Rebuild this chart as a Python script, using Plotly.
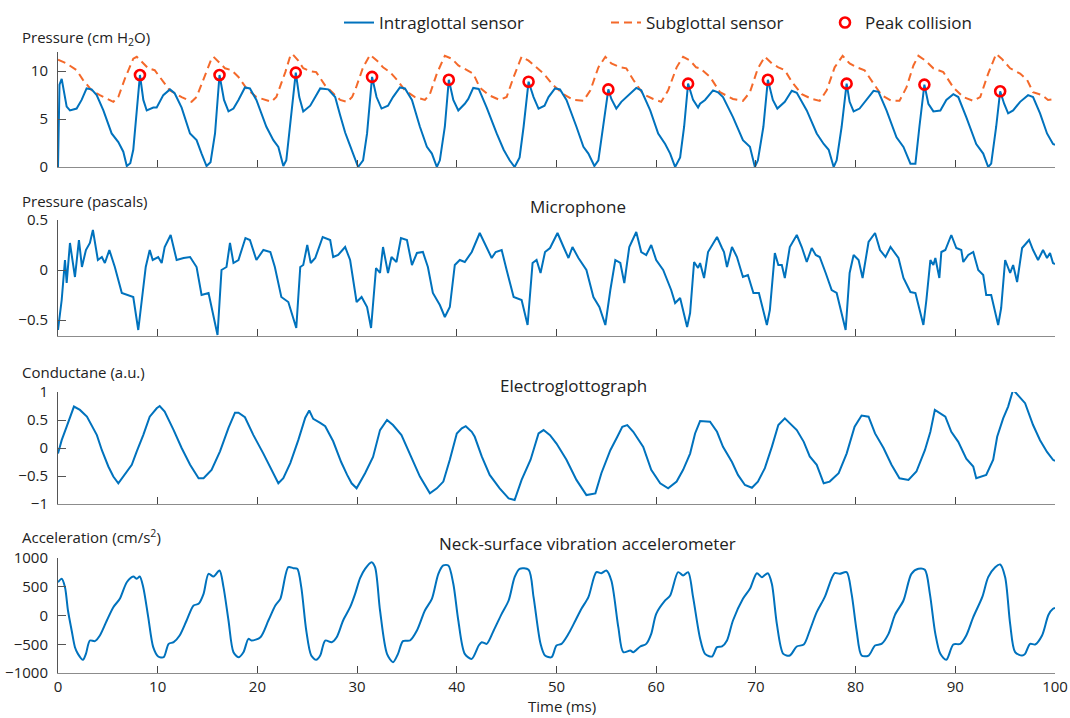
import plotly.graph_objects as go

# ---------------- DATA ----------------
# Panel 1: intraglottal sensor pressure (cm H2O)
intra_t = [0, 0.15, 0.37, 0.87, 1.2, 1.87, 2.37, 2.87, 3.37, 3.88, 4.55, 5.38, 6.05, 6.55, 6.9, 7.25, 7.55, 7.9, 8.22,
           8.56, 8.9, 9.56, 9.9, 10.56, 11.23, 11.7, 12.4, 13.24, 13.9, 14.4, 14.9, 15.3, 15.75, 16.2,
           16.65, 17.1, 17.6, 18.1, 18.75, 19.25, 19.9, 20.9, 21.6, 22.1, 22.6, 22.9, 23.35, 23.85,
           24.2, 24.6, 25.3, 25.8, 26.3, 27.1, 27.8, 28.3, 28.8, 29.2, 29.6, 30.1, 30.6, 31.0, 31.5,
           31.95, 32.45, 33.1, 33.6, 34.3, 34.8, 35.5, 36.3, 37.0, 37.5, 38.0, 38.3, 38.8, 39.2,
           39.65, 40.15, 40.8, 41.15, 41.65, 42.2, 43.0, 44.0, 44.7, 45.3, 45.8, 46.3, 46.7, 47.2,
           47.7, 48.2, 48.8, 49.2, 49.85, 50.35, 51.0, 52.0, 52.7, 53.2, 53.8, 54.2, 54.7, 55.2,
           55.5, 56.0, 56.5, 57.2, 58.0, 58.5, 59.4, 60.2, 60.9, 61.4, 61.9, 62.4, 62.8, 63.2,
           63.7, 64.2, 64.4, 64.9, 65.7, 66.2, 66.7, 67.7, 68.7, 69.4, 69.9, 70.2, 70.75, 71.2,
           71.7, 72.15, 72.9, 73.6, 74.1, 75.1, 76.1, 76.8, 77.3, 77.8, 78.1, 78.6, 79.1,
           79.4, 79.8, 80.4, 81.1, 81.8, 82.3, 83.1, 84.1, 84.8, 85.5, 86.0, 86.4, 86.9,
           87.3, 87.8, 88.5, 89.1, 89.8, 90.3, 91.1, 92.1, 92.8, 93.3, 93.6, 94.1, 94.5,
           94.9, 95.3, 95.8, 96.5, 97.3, 97.8, 98.5, 99.2, 99.8, 100]
intra_p = [0, 8.6, 9.2, 6.3, 5.9, 6.1, 7.0, 8.2, 8.1, 7.5, 5.9, 3.5, 2.6, 1.6, 0.1, 0.4, 1.8, 5.9, 9.6,
           7.0, 5.9, 6.2, 6.2, 7.5, 8.1, 7.7, 6.2, 3.5, 2.8, 1.4, 0.1, 0.5, 3.5, 9.6,
           7.0, 5.8, 6.1, 7.0, 8.3, 8.2, 7.0, 4.2, 2.8, 2.1, 0.1, 0.7, 4.9, 9.85,
           7.3, 5.8, 6.4, 7.3, 8.2, 8.1, 7.3, 5.4, 3.6, 2.5, 1.4, 0.0, 0.7, 3.5, 9.4,
           7.3, 6.1, 6.4, 7.3, 8.3, 8.2, 7.0, 4.2, 2.1, 1.4, 0.0, 0.7, 4.2, 9.1,
           7.0, 5.9, 6.6, 7.1, 8.25, 8.15, 6.2, 3.5, 1.8, 0.7, 0.0, 1.0, 4.2, 8.9,
           7.3, 6.1, 6.4, 7.3, 8.2, 8.1, 7.0, 4.2, 2.1, 1.4, 0.1, 0.7, 4.2, 8.1,
           7.1, 6.1, 6.8, 7.5, 8.25, 8.0, 5.9, 3.5, 2.4, 1.4, 0.0, 1.0, 4.2, 8.7,
           7.0, 6.2, 6.6, 7.0, 8.0, 7.8, 7.3, 5.2, 2.8, 2.1, 0.0, 0.7, 4.2, 9.1,
           7.0, 6.1, 6.8, 7.95, 7.75, 5.9, 3.5, 2.4, 1.8, 0.0, 0.7, 4.2, 8.7,
           6.8, 5.8, 6.1, 7.0, 7.95, 7.85, 5.9, 3.1, 2.1, 0.35, 0.35, 4.2, 8.6,
           6.6, 5.8, 5.9, 7.0, 7.6, 7.3, 5.2, 2.4, 1.4, 0.0, 0.35, 4.2, 7.9,
           6.6, 5.6, 5.9, 6.8, 7.5, 7.3, 5.6, 3.5, 2.4, 2.3]

# Panel 1: subglottal sensor pressure (cm H2O)
sub_t = [0, 0.87, 1.87, 2.5, 3.37, 4.2, 5.55, 6.05, 6.7, 7.55, 7.9, 8.6, 9.05, 9.7, 10.4, 11.2, 12.4, 13.4, 13.9,
         14.7, 15.4, 15.6, 16.1, 16.75, 17.4, 18.1, 18.9, 19.9, 21.4, 21.9, 22.8, 23.3, 23.5, 24.1, 24.6, 25.3,
         25.9, 26.8, 27.6, 28.3, 29.0, 29.5, 29.9, 30.6, 31.3, 32.0, 32.6, 33.3, 34.0, 34.8, 35.8, 36.8, 37.3,
         38.0, 38.8, 39.5, 40.15, 41.0, 41.65, 42.3, 43.2, 44.3, 45.0, 45.7, 46.5, 47.2, 48.0, 48.7, 49.7, 50.7,
         51.7, 52.7, 53.4, 54.2, 54.9, 55.5, 56.4, 57.0, 57.7, 58.7, 59.7, 60.5, 61.2, 62.05, 62.7, 63.4, 64.0,
         64.4, 65.4, 66.4, 67.7, 68.7, 69.4, 70.2, 70.9, 71.6, 72.25, 72.9, 73.6, 74.6, 75.6, 76.4, 77.1, 77.9,
         78.7, 79.4, 80.1, 80.9, 81.8, 82.6, 83.6, 84.4, 85.1, 85.8, 86.3, 87.0, 87.8, 88.8, 89.8, 90.8, 91.8,
         92.5, 93.3, 94.1, 94.65, 95.5, 96.5, 97.2, 97.8, 98.7, 99.3, 100]
sub_p = [11.2, 10.8, 10.1, 9.1, 8.0, 7.5, 6.8, 7.3, 9.2, 11.3, 11.5, 10.8, 10.3, 10.1, 9.1, 8.0, 7.3, 6.8, 7.3,
         9.4, 11.3, 11.5, 11.0, 10.3, 10.1, 9.4, 8.2, 7.3, 6.8, 7.3, 9.9, 11.6, 11.8, 11.1, 10.3, 10.0,
         9.9, 8.5, 7.7, 7.0, 6.8, 7.3, 8.3, 10.4, 11.7, 11.1, 10.4, 9.9, 9.1, 8.0, 7.3, 7.0, 7.6,
         9.75, 11.6, 11.3, 10.6, 10.1, 9.75, 8.3, 7.5, 7.0, 7.3, 9.4, 11.5, 11.1, 10.4, 9.75, 8.5, 7.6,
         7.0, 6.9, 8.0, 10.4, 11.5, 10.8, 10.4, 10.3, 9.1, 7.6, 7.1, 6.8, 8.0, 10.4, 11.5, 11.1, 10.4,
         10.3, 9.4, 7.8, 7.1, 6.9, 7.8, 10.3, 11.5, 10.8, 10.4, 10.1, 8.9, 7.6, 7.1, 6.9, 8.0, 10.4,
         11.6, 10.8, 10.4, 10.1, 8.7, 7.5, 6.9, 6.9, 8.3, 10.6, 11.6, 11.1, 10.3, 9.9, 8.3, 7.3, 6.9,
         7.3, 9.75, 11.8, 11.3, 10.3, 9.75, 9.1, 7.8, 7.5, 7.0, 7.1]

# Panel 1: peak collision markers
peak_t = [8.22, 16.2, 23.85, 31.5, 39.2, 47.2, 55.2, 63.2, 71.2, 79.1, 86.9, 94.5]
peak_p = [9.6, 9.6, 9.85, 9.4, 9.1, 8.9, 8.1, 8.7, 9.1, 8.7, 8.6, 7.9]

# Panel 2: microphone pressure (pascals)
mic_t = [0, 0.37, 0.7, 0.87, 1.2, 1.5, 1.7, 2.1, 2.4, 2.8, 3.2, 3.5, 4.0, 4.4, 4.7, 5.15, 5.7, 6.4, 7.05, 7.55,
         8.05, 8.4, 8.8, 9.2, 9.5, 10.05, 10.4, 10.7, 11.3, 11.9, 12.6, 13.25, 13.9, 14.4, 15.1, 16.0, 16.4,
         16.9, 17.25, 17.6, 18.1, 18.8, 19.25, 19.9, 20.6, 21.3, 21.75, 22.4, 23.1, 23.9, 24.3, 24.6, 25.0,
         25.35, 25.8, 26.55, 27.3, 27.6, 28.1, 28.8, 29.3, 29.95, 30.45, 31.0, 31.4, 31.9, 32.3, 32.6, 33.1,
         33.45, 33.95, 34.4, 35.0, 35.5, 36.0, 36.6, 37.1, 37.6, 38.3, 38.8, 39.3, 39.8, 40.3, 40.8, 41.5,
         42.3, 43.0, 43.5, 43.9, 44.5, 45.0, 45.7, 46.5, 47.1, 47.6, 48.0, 48.4, 48.85, 49.35, 50.1, 50.75,
         51.2, 51.6, 52.2, 53.0, 53.7, 54.3, 54.9, 55.4, 55.9, 56.4, 56.8, 57.3, 58.0, 58.5, 59.0, 59.5,
         60.0, 60.7, 61.5, 61.9, 62.4, 63.1, 63.4, 63.8, 64.2, 64.4, 64.8, 65.2, 66.1, 66.6, 66.8, 67.1,
         67.6, 68.1, 68.7, 69.2, 69.75, 70.3, 71.1, 71.4, 71.9, 72.25, 72.6, 72.9, 73.4, 74.1, 74.6, 75.1,
         75.6, 76.0, 76.4, 77.0, 77.6, 78.1, 78.6, 79.0, 79.4, 79.8, 80.3, 80.7, 81.3, 81.95, 82.45, 83.0,
         83.5, 84.3, 84.8, 85.5, 86.0, 86.5, 86.8, 87.1, 87.5, 87.8, 88.0, 88.4, 88.6, 89.0, 89.6, 90.1,
         90.6, 90.8, 91.3, 91.8, 92.3, 92.8, 93.1, 93.6, 94.0, 94.3, 94.6, 95.0, 95.5, 95.8, 96.2, 96.7,
         97.4, 97.8, 98.3, 98.8, 99.2, 99.5, 99.8, 100]
mic_p = [-0.6, -0.3, 0.1, -0.13, 0.27, 0.03, -0.07, 0.3, 0.03, 0.2, 0.27, 0.4, 0.1, 0.13, 0.07, 0.2, 0.03, -0.23, -0.25, -0.27,
         -0.6, -0.3, 0.03, 0.2, 0.1, 0.13, 0.07, 0.23, 0.35, 0.1, 0.12, 0.13, 0.03, -0.25, -0.23, -0.65, 0.0,
         0.03, 0.27, 0.07, 0.1, 0.32, 0.3, 0.1, 0.2, 0.18, 0.03, -0.27, -0.32, -0.58, 0.03, 0.05, 0.25,
         0.07, 0.12, 0.33, 0.3, 0.13, 0.15, 0.23, 0.1, -0.32, -0.27, -0.37, -0.58, 0.02, -0.03, 0.23, -0.03,
         0.13, 0.08, 0.32, 0.3, 0.05, 0.17, 0.18, 0.03, -0.23, -0.35, -0.47, -0.37, 0.05, 0.1, 0.08, 0.18,
         0.37, 0.23, 0.12, 0.18, 0.2, 0.0, -0.27, -0.3, -0.55, 0.07, 0.1, -0.03, 0.18, 0.22, 0.37, 0.22,
         0.12, 0.23, 0.12, 0.0, -0.27, -0.37, -0.55, -0.2, 0.1, 0.07, -0.13, 0.23, 0.38, 0.18, 0.15, 0.25,
         0.1, 0.0, -0.2, -0.33, -0.28, -0.57, -0.43, 0.08, 0.02, 0.07, -0.08, 0.18, 0.33, 0.22, 0.18, 0.03,
         0.23, 0.13, -0.07, -0.05, -0.23, -0.23, -0.55, -0.4, 0.17, 0.05, 0.05, -0.08, 0.23, 0.35, 0.23, 0.08,
         0.22, 0.15, 0.13, -0.03, -0.2, -0.23, -0.45, -0.6, -0.03, 0.15, 0.1, -0.08, 0.28, 0.37, 0.2, 0.13,
         0.23, 0.12, -0.08, -0.22, -0.23, -0.45, -0.55, -0.3, 0.1, 0.05, 0.12, -0.08, 0.18, 0.2, 0.35, 0.22,
         0.2, 0.08, 0.15, 0.18, 0.0, -0.05, -0.25, -0.25, -0.43, -0.55, -0.38, 0.1, -0.03, 0.05, -0.12, 0.22,
         0.3, 0.2, 0.1, 0.2, 0.12, 0.17, 0.07, 0.06]

# Panel 3: electroglottograph conductance (a.u.)
egg_t = [0, 0.37, 0.87, 1.2, 1.6, 2.2, 2.9, 3.9, 4.4, 5.05, 5.55, 6.05, 6.55, 7.4, 7.9, 8.55, 9.2, 9.9, 10.2, 10.7,
         11.6, 12.4, 13.25, 14.1, 14.6, 15.4, 16.25, 17.1, 17.75, 18.1, 18.75, 19.6, 20.6, 21.4, 22.1, 22.6,
         23.3, 24.1, 24.8, 25.2, 25.6, 26.3, 26.8, 27.6, 28.4, 29.0, 29.45, 29.95, 30.8, 31.6, 32.3, 33.0,
         33.6, 34.45, 35.3, 36.3, 37.3, 38.0, 38.65, 39.3, 40.0, 40.5, 40.9, 41.5, 41.8, 42.5, 43.3, 44.3,
         45.2, 45.8, 46.5, 47.4, 48.2, 48.7, 49.35, 50.0, 51.0, 52.0, 53.0, 53.9, 54.5, 55.4, 56.1, 56.6,
         57.1, 57.7, 58.7, 59.5, 60.4, 61.2, 62.05, 62.7, 63.4, 63.9, 64.4, 65.4, 66.1, 66.7, 67.6, 68.2,
         68.9, 69.6, 70.2, 70.9, 71.6, 72.25, 72.9, 73.6, 74.1, 74.8, 75.4, 76.1, 76.8, 77.4, 78.3, 79.1,
         79.9, 80.6, 81.3, 81.95, 82.8, 83.6, 84.4, 85.3, 86.1, 86.95, 87.5, 87.95, 88.5, 89.0, 89.6, 90.3,
         91.1, 91.8, 92.1, 93.1, 93.8, 94.2, 94.8, 95.3, 95.8, 96.5, 97.0, 97.8, 98.5, 99.2, 99.8, 100]
egg_v = [-0.1, 0.14, 0.38, 0.56, 0.74, 0.68, 0.56, 0.23, -0.04, -0.33, -0.51, -0.63, -0.51, -0.3, -0.06, 0.23, 0.56, 0.71, 0.75, 0.65,
         0.32, 0.0, -0.3, -0.54, -0.54, -0.39, -0.06, 0.36, 0.63, 0.63, 0.55, 0.23, -0.1, -0.39, -0.63, -0.54,
         -0.27, 0.14, 0.54, 0.67, 0.52, 0.45, 0.39, 0.12, -0.25, -0.48, -0.63, -0.72, -0.45, -0.16, 0.32, 0.5,
         0.41, 0.23, -0.1, -0.51, -0.81, -0.72, -0.6, -0.21, 0.26, 0.35, 0.39, 0.29, 0.2, -0.15, -0.48, -0.72,
         -0.9, -0.93, -0.57, -0.21, 0.26, 0.32, 0.23, 0.08, -0.21, -0.57, -0.84, -0.81, -0.45, -0.04, 0.2, 0.38,
         0.41, 0.29, 0.02, -0.39, -0.63, -0.72, -0.6, -0.39, -0.1, 0.26, 0.48, 0.47, 0.29, 0.02, -0.25, -0.48,
         -0.66, -0.71, -0.6, -0.36, 0.02, 0.41, 0.53, 0.41, 0.32, 0.11, -0.15, -0.3, -0.63, -0.6, -0.45, -0.1,
         0.38, 0.58, 0.56, 0.26, 0.0, -0.3, -0.54, -0.57, -0.42, -0.04, 0.29, 0.68, 0.62, 0.56, 0.29, 0.11,
         -0.19, -0.33, -0.54, -0.48, -0.21, 0.2, 0.53, 0.74, 1.04, 0.89, 0.8, 0.41, 0.14, -0.07, -0.21, -0.23]

# Panel 4: neck-surface accelerometer (cm/s^2)
acc_t = [0, 0.37, 0.7, 1.0, 1.37, 1.7, 2.0, 2.5, 2.8, 3.2, 3.7, 4.2, 4.9, 5.55, 6.2, 6.9, 7.55, 7.9, 8.2, 8.55,
         9.05, 9.55, 10.05, 10.6, 11.1, 11.6, 12.2, 12.9, 13.6, 14.1, 14.6, 15.1, 15.6, 16.2, 16.6, 17.1, 17.6,
         18.1, 18.6, 19.1, 19.4, 20.3, 21.1, 21.8, 22.3, 23.1, 23.6, 24.0, 24.4, 24.9, 25.4, 25.9, 26.3, 26.8,
         27.45, 27.95, 28.6, 29.3, 29.8, 30.3, 30.8, 31.45, 31.8, 32.3, 33.0, 33.6, 34.1, 34.6, 35.3, 36.0,
         36.8, 37.5, 38.15, 38.65, 39.15, 39.65, 40.15, 40.8, 41.5, 42.2, 42.5, 43.0, 43.7, 44.5, 45.2, 45.8,
         46.3, 47.2, 47.7, 48.4, 48.85, 49.5, 50.0, 50.5, 51.2, 51.9, 52.5, 53.2, 54.0, 54.5, 55.0, 55.5,
         56.2, 56.7, 57.4, 57.7, 58.4, 59.0, 59.5, 60.0, 60.9, 61.4, 62.2, 62.7, 63.2, 63.7, 64.4, 64.9, 65.6,
         66.1, 66.6, 67.1, 67.7, 68.7, 69.4, 70.1, 70.6, 71.2, 71.6, 72.1, 72.75, 73.4, 74.1, 74.8, 75.4,
         76.1, 76.9, 77.9, 78.4, 79.1, 79.6, 80.1, 80.6, 81.3, 81.95, 82.6, 83.3, 83.95, 84.8, 85.6, 86.3,
         86.95, 87.45, 88.0, 88.5, 89.1, 89.8, 90.5, 91.1, 91.8, 92.7, 93.3, 94.0, 94.5, 95.0, 95.5, 96.0,
         96.7, 97.0, 97.5, 98.0, 98.7, 99.35, 99.8, 100]
acc_v = [579, 638, 493, 87, -261, -551, -667, -771, -667, -435, -446, -348, -87, 145, 290, 579, 678, 638, 678, 493,
         -29, -551, -713, -725, -493, -464, -348, -87, 174, 203, 377, 725, 678, 783, 493, -87, -638,
         -725, -638, -406, -435, -377, -87, 174, 290, 841, 823, 812, 493, -261, -696, -771, -696, -435,
         -464, -377, -87, 145, 377, 650, 812, 928, 841, 87, -667, -812, -667, -446, -435, -261,
         87, 290, 725, 870, 870, 551, -87, -667, -754, -522, -464, -493, -261, 29, 261, 667,
         812, 794, 319, -493, -696, -725, -522, -493, -319, -87, 116, 319, 754, 736, 783, 609,
         -203, -638, -609, -638, -539, -493, -319, 29, 261, 348, 754, 696, 754, 319, -400, -667, -713,
         -551, -539, -435, -87, 290, 464, 736, 667, 736, 551, -145, -667, -696, -539, -505, -261,
         58, 319, 736, 725, 754, 377, -261, -696, -696, -522, -493, -319, 12, 261, 725, 812,
         794, 377, -319, -667, -771, -505, -493, -348, -29, 319, 667, 841, 888, 667, -145, -638,
         -696, -667, -493, -505, -348, 12, 116, 130]

x_ticks = list(range(0, 101, 10))
y1_ticks = [0, 5, 10]
y2_ticks = [-0.5, 0, 0.5]
y3_ticks = [-1, -0.5, 0, 0.5, 1]
y4_ticks = [-1000, -500, 0, 500, 1000]

# ---------------- STYLE ----------------
W, H = 1070, 718
BLUE = "#0072BD"
ORANGE = "#F4692A"
RED = "#FF0000"
FONT = "Open Sans"
TXT = "#222222"
L, R = 58, 15


def dom(top_px, bot_px):
    return [1 - bot_px / H, 1 - top_px / H]


fig = go.Figure()

fig.add_trace(go.Scatter(x=sub_t, y=sub_p, mode="lines", name="Subglottal sensor",
                         line=dict(color=ORANGE, width=2, dash="8px,5px"),
                         xaxis="x", yaxis="y", legend="legend2"))
fig.add_trace(go.Scatter(x=intra_t, y=intra_p, mode="lines", name="Intraglottal sensor",
                         line=dict(color=BLUE, width=2),
                         xaxis="x", yaxis="y", legend="legend"))
fig.add_trace(go.Scatter(x=peak_t, y=peak_p, mode="markers", name="Peak collision",
                         marker=dict(symbol="circle-open", color=RED, size=10, line=dict(width=2.6, color=RED)),
                         xaxis="x", yaxis="y", legend="legend3"))
fig.add_trace(go.Scatter(x=mic_t, y=mic_p, mode="lines", showlegend=False,
                         line=dict(color=BLUE, width=2), xaxis="x2", yaxis="y2"))
fig.add_trace(go.Scatter(x=egg_t, y=egg_v, mode="lines", showlegend=False,
                         line=dict(color=BLUE, width=2), xaxis="x3", yaxis="y3"))
fig.add_trace(go.Scatter(x=acc_t, y=acc_v, mode="lines", showlegend=False,
                         line=dict(color=BLUE, width=2, shape="spline", smoothing=0.8),
                         xaxis="x4", yaxis="y4"))


def xax(anchor, labels):
    return dict(domain=[0, 1], range=[0, 100], anchor=anchor, showline=True, linecolor="#8c8c8c",
                linewidth=1, ticks="inside", ticklen=7, tickwidth=1, tickcolor="#444",
                tickvals=x_ticks, showticklabels=labels, showgrid=False, zeroline=False,
                tickfont=dict(size=15, color=TXT, family=FONT), automargin=False)


def yax(anchor, rng, tv, d):
    return dict(domain=d, range=rng, anchor=anchor, showline=True, linecolor="#555",
                linewidth=1, ticks="inside", ticklen=8, tickwidth=1, tickcolor="#555",
                tickvals=tv, showgrid=False, zeroline=False, ticklabelstandoff=6,
                tickfont=dict(size=15, color=TXT, family=FONT), automargin=False)


fig.update_layout(
    width=W, height=H,
    margin=dict(l=L, r=R, t=0, b=0, autoexpand=False),
    paper_bgcolor="white", plot_bgcolor="white",
    font=dict(family=FONT, size=14, color=TXT),
    xaxis=xax("y", False),
    xaxis2=xax("y2", False),
    xaxis3=xax("y3", False),
    xaxis4=xax("y4", True),
    yaxis=yax("x", [0, 12], y1_ticks, dom(52, 167)),
    yaxis2=yax("x2", [-0.66, 0.5], y2_ticks, dom(220, 336)),
    yaxis3=yax("x3", [-1, 1], y3_ticks, dom(392, 504)),
    yaxis4=yax("x4", [-1000, 1000], y4_ticks, dom(558, 673)),
)

leg_common = dict(xref="container", yref="container", xanchor="left", yanchor="middle",
                  orientation="h", bgcolor="rgba(0,0,0,0)", borderwidth=0,
                  font=dict(size=17, color=TXT, family=FONT))
fig.update_layout(
    legend=dict(x=339 / W, y=1 - 23 / H, **leg_common),
    legend2=dict(x=606 / W, y=1 - 23 / H, **leg_common),
    legend3=dict(x=825 / W, y=1 - 23 / H, **leg_common),
)

annos = [
    dict(text="Pressure (cm H<sub>2</sub>O)", x=20, y=38),
    dict(text="Pressure (pascals)", x=20, y=201),
    dict(text="Conductane (a.u.)", x=20, y=372),
    dict(text="Acceleration (cm/s<sup>2</sup>)", x=20, y=536),
]
for a in annos:
    fig.add_annotation(text=a["text"], xref="paper", yref="paper",
                       x=(a["x"] - L) / (W - L - R), y=1 - a["y"] / H,
                       xanchor="left", yanchor="middle", showarrow=False,
                       font=dict(size=15, color=TXT, family=FONT))

titles = [
    dict(text="Microphone", x=578, y=207, size=17),
    dict(text="Electroglottograph", x=573, y=385, size=17),
    dict(text="Neck-surface vibration accelerometer", x=587, y=543, size=17),
    dict(text="Time (ms)", x=562, y=706, size=15),
]
for a in titles:
    fig.add_annotation(text=a["text"], xref="paper", yref="paper",
                       x=(a["x"] - L) / (W - L - R), y=1 - a["y"] / H,
                       xanchor="center", yanchor="middle", showarrow=False,
                       font=dict(size=a["size"], color=TXT, family=FONT))

fig.write_html("out.html", config={"displayModeBar": False},
               post_script="document.body.style.margin='0px';document.body.style.overflow='hidden';")
